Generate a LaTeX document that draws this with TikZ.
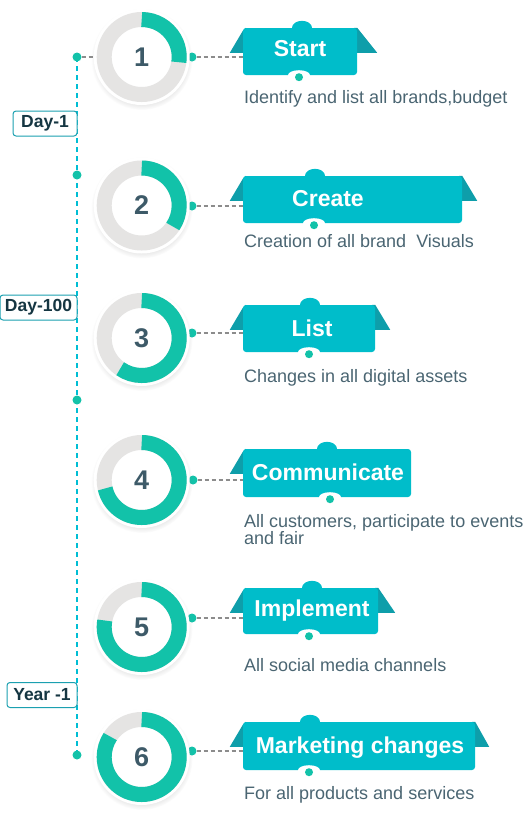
\documentclass[tikz,border=0pt]{standalone}
\usepackage{fontspec}
\setmainfont{Liberation Sans}
\usetikzlibrary{positioning,shadows,backgrounds}
\definecolor{BandTeal}{RGB}{0,189,202}
\definecolor{FoldTeal}{RGB}{14,158,170}
\definecolor{RingGreen}{RGB}{18,194,169}
\definecolor{RingGray}{RGB}{229,228,227}
\definecolor{NumSlate}{RGB}{61,90,104}
\definecolor{DescSlate}{RGB}{74,101,114}
\definecolor{TagInk}{RGB}{21,54,66}
\definecolor{TagLine}{RGB}{27,160,176}
\definecolor{LineCyan}{RGB}{0,190,212}
\tikzset{
  halo/.style={circle,fill=white,minimum size=96pt,inner sep=0pt,
    circular drop shadow={shadow xshift=0pt,shadow yshift=-2pt,shadow scale=1.06,opacity=.22},
    text=NumSlate,font=\fontsize{27}{27}\selectfont\bfseries},
  ringbg/.style={draw=RingGray,line width=15pt},
  ringfg/.style={draw=RingGreen,line width=15pt},
  band/.style={fill=BandTeal,rounded corners=3pt,minimum height=47pt,inner sep=0pt},
  fold/.style={fill=FoldTeal},
  head/.style={inner sep=0pt,text=white,text height=16.5pt,text depth=0pt,
    font=\fontsize{23}{23}\selectfont\bfseries},
  desc/.style={anchor=base west,inner sep=0pt,align=left,text=DescSlate,
    font=\fontsize{18}{17}\selectfont},
}
\tikzset{dot/.style={circle,fill=RingGreen,inner sep=0pt,minimum size=9pt},
  link/.style={draw=black!45,line width=1.1pt,dash pattern=on 4pt off 3pt},
  timeline/.style={draw=LineCyan,line width=1.3pt,dash pattern=on 5pt off 4pt},
  tag/.style={draw=TagLine,fill=white,rounded corners=3pt,line width=1pt,minimum height=25pt,
    inner sep=0pt,anchor=east,text=TagInk,font=\fontsize{17.5}{17}\selectfont\bfseries}}

\begin{document}
\begin{tikzpicture}[x=1pt,y=1pt]
\useasboundingbox (0,0) rectangle (530,-815);
\node[dot] (p1) at (77,-57) {};
\node[dot] (p2) at (77,-175) {};
\node[dot] (p3) at (77,-400) {};
\node[dot] (p4) at (77,-755) {};
\begin{scope}[on background layer]
\draw[timeline] (p1.center) -- (p4.center);
\end{scope}
\node[tag,minimum width=64pt] (y1) at (77.5,-123.5) {Day-1};
\node[tag,minimum width=77pt] (y2) at (77.5,-307.5) {Day-100};
\node[tag,minimum width=70pt] (y3) at (77.5,-695) {Year -1};
\node[dot] (d1) at (192,-57) {};
\node[dot] (d2) at (192,-206) {};
\node[dot] (d3) at (192,-333) {};
\node[dot] (d4) at (193,-480) {};
\node[dot] (d5) at (192,-618) {};
\node[dot] (d6) at (192,-751) {};
\node[halo] (c1) at (141.7,-57) {1};
\node[halo] (c2) at (141.7,-205.5) {2};
\node[halo] (c3) at (141.7,-338) {3};
\node[halo] (c4) at (141.7,-480) {4};
\node[halo] (c5) at (141.7,-627) {5};
\node[halo] (c6) at (141.7,-757) {6};
\draw[ringbg] (c1) circle[radius=37.5];
\draw[ringbg] (c2) circle[radius=37.5];
\draw[ringbg] (c3) circle[radius=37.5];
\draw[ringbg] (c4) circle[radius=37.5];
\draw[ringbg] (c5) circle[radius=37.5];
\draw[ringbg] (c6) circle[radius=37.5];
\draw[ringfg] ([shift={(90:37.5)}]c1.center) arc[start angle=90,end angle=-8,radius=37.5];
\draw[ringfg] ([shift={(90:37.5)}]c2.center) arc[start angle=90,end angle=-34,radius=37.5];
\draw[ringfg] ([shift={(90:37.5)}]c3.center) arc[start angle=90,end angle=-125,radius=37.5];
\draw[ringfg] ([shift={(90:37.5)}]c4.center) arc[start angle=90,end angle=-167,radius=37.5];
\draw[ringfg] ([shift={(90:37.5)}]c5.center) arc[start angle=90,end angle=-190,radius=37.5];
\draw[ringfg] ([shift={(90:37.5)}]c6.center) arc[start angle=90,end angle=-213,radius=37.5];
\draw[link] (p1) -- (c1);
\node[band,minimum width=114pt] (b1) at (300,-51.5) {};
\node[band,minimum width=219pt] (b2) at (352.5,-199.5) {};
\node[band,minimum width=132pt] (b3) at (309,-328.5) {};
\node[band,minimum width=168pt,minimum height=48pt] (b4) at (327,-473) {};
\node[band,minimum width=135pt,minimum height=46pt] (b5) at (310.5,-611) {};
\node[band,minimum width=232pt,minimum height=48pt] (b6) at (359,-746) {};
\begin{scope}[on background layer]
\fill[fold] ([shift={(-13,-25)}]b1.north west) -- ([shift={(0,-3)}]b1.north west) -- ([shift={(3,0)}]b1.north west) -- ([shift={(3,-25)}]b1.north west) -- cycle;
\fill[fold] ([shift={(20,-25)}]b1.north east) -- (b1.north east) -- ([shift={(-3,0)}]b1.north east) -- ([shift={(-3,-25)}]b1.north east) -- cycle;
\fill[fold] ([shift={(-13,-25)}]b2.north west) -- ([shift={(0,-3)}]b2.north west) -- ([shift={(3,0)}]b2.north west) -- ([shift={(3,-25)}]b2.north west) -- cycle;
\fill[fold] ([shift={(15,-25)}]b2.north east) -- (b2.north east) -- ([shift={(-3,0)}]b2.north east) -- ([shift={(-3,-25)}]b2.north east) -- cycle;
\fill[fold] ([shift={(-13,-25)}]b3.north west) -- ([shift={(0,-3)}]b3.north west) -- ([shift={(3,0)}]b3.north west) -- ([shift={(3,-25)}]b3.north west) -- cycle;
\fill[fold] ([shift={(15,-25)}]b3.north east) -- (b3.north east) -- ([shift={(-3,0)}]b3.north east) -- ([shift={(-3,-25)}]b3.north east) -- cycle;
\fill[fold] ([shift={(-13,-25)}]b4.north west) -- ([shift={(0,-3)}]b4.north west) -- ([shift={(3,0)}]b4.north west) -- ([shift={(3,-25)}]b4.north west) -- cycle;
\fill[fold] ([shift={(-13,-25)}]b5.north west) -- ([shift={(0,-3)}]b5.north west) -- ([shift={(3,0)}]b5.north west) -- ([shift={(3,-25)}]b5.north west) -- cycle;
\fill[fold] ([shift={(17,-25)}]b5.north east) -- (b5.north east) -- ([shift={(-3,0)}]b5.north east) -- ([shift={(-3,-25)}]b5.north east) -- cycle;
\fill[fold] ([shift={(-13,-25)}]b6.north west) -- ([shift={(0,-3)}]b6.north west) -- ([shift={(3,0)}]b6.north west) -- ([shift={(3,-25)}]b6.north west) -- cycle;
\fill[fold] ([shift={(14,-25)}]b6.north east) -- (b6.north east) -- ([shift={(-3,0)}]b6.north east) -- ([shift={(-3,-25)}]b6.north east) -- cycle;
\end{scope}
\fill[BandTeal] ([xshift=2pt]b1.north) ellipse[x radius=10,y radius=7];
\fill[BandTeal] ([xshift=-37.5pt]b2.north) ellipse[x radius=10,y radius=7];
\fill[BandTeal] ([xshift=1pt]b3.north) ellipse[x radius=10,y radius=7];
\fill[BandTeal] (b4.north) ellipse[x radius=10,y radius=7];
\fill[BandTeal] ([xshift=1.5pt]b5.north) ellipse[x radius=10,y radius=7];
\fill[BandTeal] ([xshift=-49pt]b6.north) ellipse[x radius=10,y radius=7];
\fill[white] ([xshift=-1pt]b1.south) ellipse[x radius=11,y radius=5];
\fill[white] ([xshift=-38.5pt]b2.south) ellipse[x radius=11,y radius=5];
\fill[white] (b3.south) ellipse[x radius=11,y radius=5];
\fill[white] ([xshift=3pt]b4.south) ellipse[x radius=11,y radius=5];
\fill[white] ([xshift=-1.5pt]b5.south) ellipse[x radius=11,y radius=5];
\fill[white] ([xshift=-50pt]b6.south) ellipse[x radius=11,y radius=5];
\node[dot,minimum size=8pt] (m1) at ([shift={(-1,-2)}]b1.south) {};
\node[dot,minimum size=8pt] (m2) at ([shift={(-38.5,-2)}]b2.south) {};
\node[dot,minimum size=8pt] (m3) at ([shift={(0,-2)}]b3.south) {};
\node[dot,minimum size=8pt] (m4) at ([shift={(3,-2)}]b4.south) {};
\node[dot,minimum size=8pt] (m5) at ([shift={(-1.5,-2)}]b5.south) {};
\node[dot,minimum size=8pt] (m6) at ([shift={(-50,-2)}]b6.south) {};
\node[head] (t1) at (300,-48) {Start};
\node[head] (t2) at (328,-198) {Create};
\node[head] (t3) at (312,-328) {List};
\node[head] (t4) at (328,-472) {Communicate};
\node[head] (t5) at (312,-608) {Implement};
\node[head] (t6) at (360,-745) {Marketing changes};
\draw[link] (d1) -- (d1 -| b1.west);
\draw[link] (d2) -- (d2 -| b2.west);
\draw[link] (d3) -- (d3 -| b3.west);
\draw[link] (d4) -- (d4 -| b4.west);
\draw[link] (d5) -- (d5 -| b5.west);
\draw[link] (d6) -- (d6 -| b6.west);
\node[desc] (e1) at (244,-103) {Identify and list all brands,budget};
\node[desc] (e2) at (244,-247) {Creation of all brand\ \ Visuals};
\node[desc] (e3) at (244,-382) {Changes in all digital assets};
\node[desc] (e4) at (244,-544) {All customers, participate to events\\and fair};
\node[desc] (e5) at (244,-671) {All social media channels};
\node[desc] (e6) at (244,-799) {For all products and services};
\end{tikzpicture}
\end{document}
